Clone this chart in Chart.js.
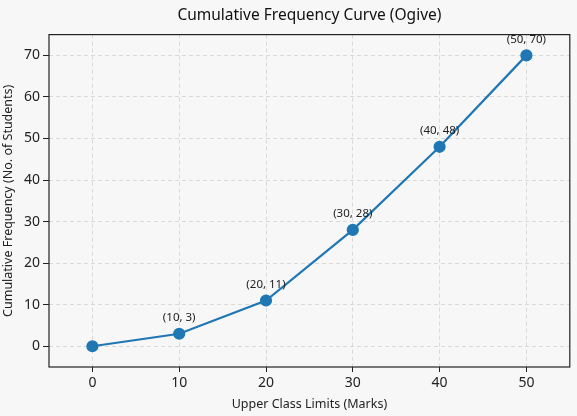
<!DOCTYPE html>
<html>
<head>
<meta charset="utf-8">
<script src="https://cdn.jsdelivr.net/npm/chart.js@4/dist/chart.umd.min.js"></script>
<style>
  html, body { margin: 0; padding: 0; background: #f7f7f7; }
  #wrap { width: 577px; height: 416px; }
</style>
</head>
<body>
<div id="wrap"><canvas id="chart"></canvas></div>
<script>
// upper class limits and cumulative frequencies
var upperLimits = [0, 10, 20, 30, 40, 50];
var cumFreq = [0, 3, 11, 28, 48, 70];
var xTicks = [0, 10, 20, 30, 40, 50];
var yTicks = [0, 10, 20, 30, 40, 50, 60, 70];

var points = upperLimits.map(function (x, i) { return { x: x, y: cumFreq[i] }; });

var fontFam = "'Noto Sans', 'Open Sans', sans-serif";

var bgPlugin = {
    id: 'bg',
    beforeDraw: function (chart) {
        var c = chart.ctx;
        c.save();
        c.fillStyle = '#f7f7f7';
        c.fillRect(0, 0, chart.width, chart.height);
        c.restore();
    }
};

var framePlugin = {
    id: 'frame',
    afterDraw: function (chart) {
        var c = chart.ctx, a = chart.chartArea;
        c.save();
        c.strokeStyle = '#222';
        c.lineWidth = 1.2;
        c.strokeRect(a.left, a.top, a.right - a.left, a.bottom - a.top);
        c.restore();
    }
};

var labelPlugin = {
    id: 'pointLabels',
    afterDatasetsDraw: function (chart) {
        var c = chart.ctx;
        var xs = chart.scales.x, ys = chart.scales.y;
        c.save();
        c.font = '11.5px ' + fontFam;
        c.fillStyle = '#222';
        c.textAlign = 'center';
        c.textBaseline = 'middle';
        upperLimits.forEach(function (x, i) {
            if (i === 0) return;
            var px = xs.getPixelForValue(x);
            var py = ys.getPixelForValue(cumFreq[i]);
            c.fillText('(' + x + ', ' + cumFreq[i] + ')', px, py - 16);
        });
        c.restore();
    }
};

new Chart(document.getElementById('chart').getContext('2d'), {
    type: 'line',
    data: {
        datasets: [{
            data: points,
            borderColor: '#1f77b4',
            backgroundColor: '#1f77b4',
            borderWidth: 2.2,
            pointRadius: 5,
            pointHoverRadius: 5,
            fill: false,
            tension: 0
        }]
    },
    options: {
        responsive: true,
        maintainAspectRatio: false,
        animation: false,
        devicePixelRatio: 1,
        layout: { padding: { left: 0, right: 5, top: 0, bottom: 0 } },
        plugins: {
            legend: { display: false },
            tooltip: { enabled: false },
            title: {
                display: true,
                text: 'Cumulative Frequency Curve (Ogive)',
                fullSize: false,
                color: '#111',
                font: { family: fontFam, size: 15.5, weight: 'normal' },
                padding: { top: 6, bottom: 10 }
            }
        },
        scales: {
            x: {
                type: 'linear',
                min: -5,
                max: 55,
                afterBuildTicks: function (axis) {
                    axis.ticks = xTicks.map(function (v) { return { value: v }; });
                },
                afterFit: function (axis) { axis.height = 49; },
                ticks: {
                    color: '#222',
                    padding: 3,
                    font: { family: fontFam, size: 14 }
                },
                grid: {
                    color: '#d9d9d9',
                    tickLength: 5,
                    tickColor: '#222',
                    tickBorderDash: [],
                    tickWidth: 1
                },
                border: { display: false, dash: [4, 3] },
                title: {
                    display: true,
                    text: 'Upper Class Limits (Marks)',
                    color: '#222',
                    font: { family: fontFam, size: 12.5 },
                    padding: { top: 1, bottom: 4 }
                }
            },
            y: {
                type: 'linear',
                min: -5,
                max: 75,
                afterBuildTicks: function (axis) {
                    axis.ticks = yTicks.map(function (v) { return { value: v }; });
                },
                afterFit: function (axis) { axis.width = 49; },
                ticks: {
                    color: '#222',
                    padding: 3,
                    font: { family: fontFam, size: 14 }
                },
                grid: {
                    color: '#d9d9d9',
                    tickLength: 6,
                    tickColor: '#222',
                    tickBorderDash: [],
                    tickWidth: 1
                },
                border: { display: false, dash: [4, 3] },
                title: {
                    display: true,
                    text: 'Cumulative Frequency (No. of Students)',
                    color: '#222',
                    font: { family: fontFam, size: 12.5 },
                    padding: { top: 1, bottom: 2 }
                }
            }
        }
    },
    plugins: [bgPlugin, framePlugin, labelPlugin]
});
</script>
</body>
</html>
